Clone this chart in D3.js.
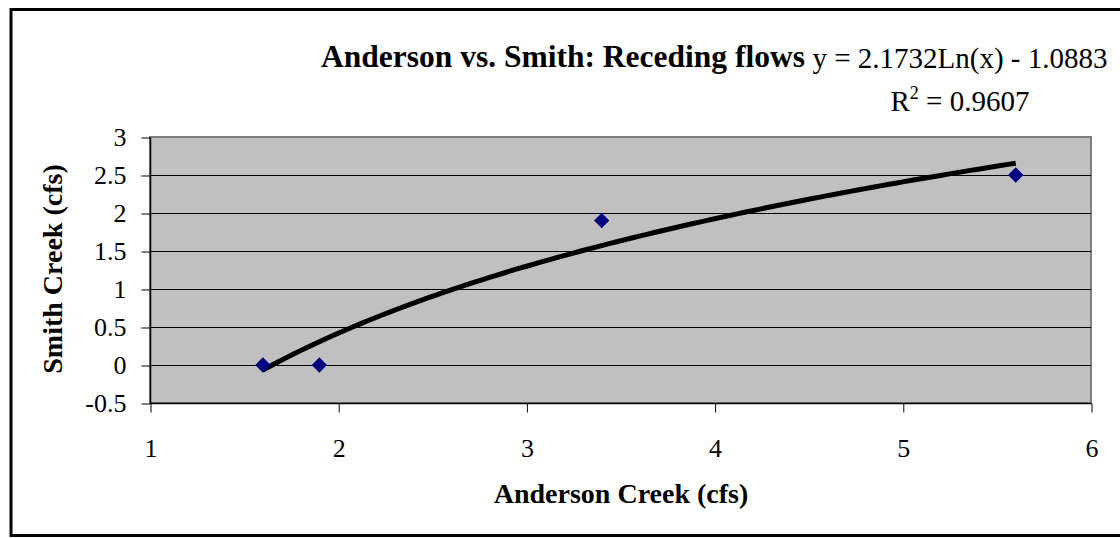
<!DOCTYPE html>
<html><head><meta charset="utf-8">
<script src="https://cdn.jsdelivr.net/npm/d3@7"></script>
<style>body{margin:0;background:#fff}svg{display:block}text{font-family:"Liberation Serif","Times New Roman",serif}</style>
</head><body><svg id="c" width="1120" height="538"></svg>
<script>
const xs = [1.6, 1.9, 3.4, 5.6];
const ys = [0, 0, 1.9, 2.5];
const xTicks = [1, 2, 3, 4, 5, 6];
const yTicks = [-0.5, 0, 0.5, 1, 1.5, 2, 2.5, 3];
const trendA = 2.1732, trendB = -1.0883;
const titleText = "Anderson vs. Smith: Receding flows";
const eqText = "y = 2.1732Ln(x) - 1.0883";
const r2Value = "0.9607";
const xLabel = "Anderson Creek (cfs)";
const yLabel = "Smith Creek (cfs)";

const svg = d3.select("#c");
const L = 150, R = 1091, T = 137, B = 403;
const x = d3.scaleLinear().domain([1, 6]).range([L, R]);
const y = d3.scaleLinear().domain([-0.5, 3]).range([B, T]);
const FF = '"Liberation Serif","Times New Roman",serif';

// outer frame
svg.append("rect").attr("x", 11).attr("y", 9.5).attr("width", 1120).attr("height", 526)
  .attr("fill", "none").attr("stroke", "#000").attr("stroke-width", 3);

// plot area
svg.append("rect").attr("x", L).attr("y", T).attr("width", R - L).attr("height", B - T)
  .attr("fill", "#c0c0c0").attr("stroke", "#808080").attr("stroke-width", 2);

// gridlines
svg.append("g").selectAll("line").data(yTicks.filter(d => d > -0.5 && d < 3)).join("line")
  .attr("x1", L).attr("x2", R).attr("y1", d => Math.round(y(d)) + 0.5).attr("y2", d => Math.round(y(d)) + 0.5)
  .attr("stroke", "#000").attr("stroke-width", 1);

// axes
const yAxis = d3.axisLeft(y).tickValues(yTicks).tickSize(9).tickPadding(15).tickFormat(d => String(d));
const gy = svg.append("g").attr("transform", `translate(${L + 0.5},0.5)`).call(yAxis);
const xAxis = d3.axisBottom(x).tickValues(xTicks).tickSize(9).tickPadding(26).tickFormat(d => String(d));
const gx = svg.append("g").attr("transform", `translate(0.5,${B + 0.5})`).call(xAxis);
[gx, gy].forEach(g => {
  g.attr("font-size", null).attr("font-family", null);
  g.select(".domain").attr("stroke", "#000").attr("stroke-width", 1.5);
  g.selectAll(".tick line").attr("stroke", "#000");
  g.selectAll("text").style("font-size", "26px").attr("fill", "#000").style("font-family", FF);
});
gy.select(".domain").attr("d", `M0,${T}V${B}`);
gx.select(".domain").attr("d", `M${L},0H${R}`);

// trendline
const tx = d3.range(0, 101).map(i => xs[0] + (xs[xs.length - 1] - xs[0]) * i / 100);
svg.append("path").datum(tx)
  .attr("d", d3.line().x(d => x(d)).y(d => y(trendA * Math.log(d) + trendB)))
  .attr("fill", "none").attr("stroke", "#000").attr("stroke-width", 5);

// points
svg.append("g").selectAll("path").data(xs).join("path")
  .attr("d", d3.symbol().type(d3.symbolDiamond2).size(150))
  .attr("transform", (d, i) => `translate(${x(d)},${y(ys[i])})`)
  .attr("fill", "#000080");

// titles
svg.append("text").attr("x", 563).attr("y", 67).attr("text-anchor", "middle")
  .style("font-size", "31.5px").attr("font-weight", "bold").text(titleText);
svg.append("text").attr("x", 960).attr("y", 68).attr("text-anchor", "middle")
  .style("font-size", "29px").text(eqText);
const r2 = svg.append("text").attr("x", 960).attr("y", 111).attr("text-anchor", "middle").style("font-size", "29px");
r2.append("tspan").text("R");
r2.append("tspan").attr("dy", -12).style("font-size", "18px").text("2");
r2.append("tspan").attr("dy", 12).text(" = " + r2Value);

svg.append("text").attr("x", 621).attr("y", 503).attr("text-anchor", "middle")
  .style("font-size", "28px").attr("font-weight", "bold").text(xLabel);
svg.append("text").attr("transform", "translate(62,269) rotate(-90)").attr("text-anchor", "middle")
  .style("font-size", "28px").attr("font-weight", "bold").text(yLabel);
</script></body></html>
